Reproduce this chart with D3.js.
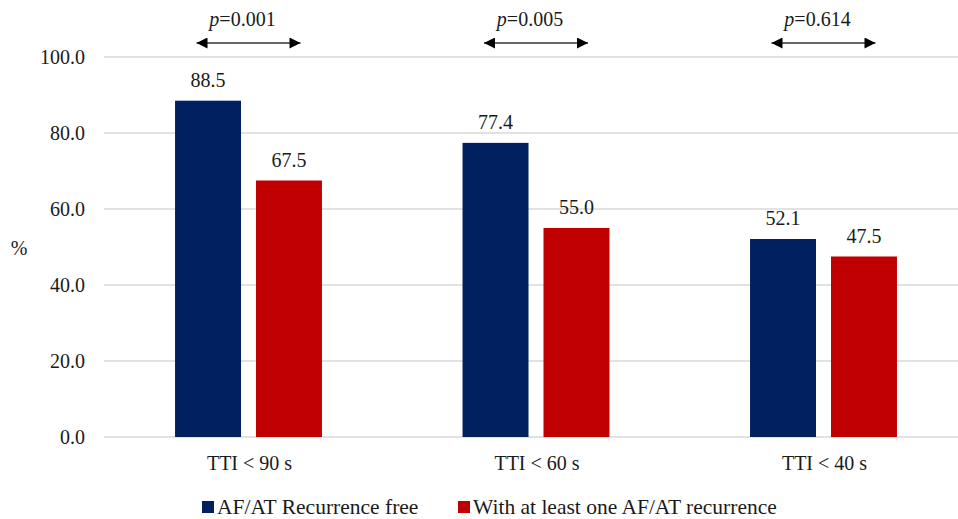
<!DOCTYPE html>
<html>
<head>
<meta charset="utf-8">
<script src="https://cdn.jsdelivr.net/npm/d3@7/dist/d3.min.js"></script>
<style>
  html, body { margin: 0; padding: 0; background: #fff; }
  svg { display: block; }
  svg text { font-family: "Liberation Serif", Tinos, "Times New Roman", "DejaVu Serif", serif; }
</style>
</head>
<body>
<svg id="chart" width="958" height="519"></svg>
<script>
const categories = ["TTI < 90 s", "TTI < 60 s", "TTI < 40 s"];
const seriesNames = ["AF/AT Recurrence free", "With at least one AF/AT recurrence"];
const recurrenceFree = [88.5, 77.4, 52.1];
const withRecurrence = [67.5, 55.0, 47.5];
const pValues = ["0.001", "0.005", "0.614"];
const yTicks = [0, 20, 40, 60, 80, 100];
const colors = ["#002060", "#C00000"];

const svg = d3.select("#chart");
const W = 958, H = 519;
const FONT = "'Liberation Serif', Tinos, 'Times New Roman', 'DejaVu Serif', serif";
const TXT = "#1a1a1a";

const x0 = d3.scaleBand().domain(categories).range([104.75, 967.25])
  .paddingInner(0.489).paddingOuter(0.2445);
const x1 = d3.scaleBand().domain(seriesNames).range([0, x0.bandwidth()])
  .paddingInner(15 / 81).paddingOuter(0);
const y = d3.scaleLinear().domain([0, 100]).range([437, 57]);

// gridlines
svg.append("g").selectAll("line").data(yTicks).join("line")
  .attr("x1", 104).attr("x2", W)
  .attr("y1", d => y(d)).attr("y2", d => y(d))
  .attr("stroke", "#d9d9d9").attr("stroke-width", 1.5);

// y tick labels
svg.append("g").selectAll("text").data(yTicks).join("text")
  .attr("x", 85).attr("y", d => y(d)).attr("dy", "0.35em")
  .attr("text-anchor", "end").attr("font-size", 20).attr("fill", TXT)
  .attr("font-family", FONT)
  .text(d => d.toFixed(1));

// % label
svg.append("text").attr("x", 19).attr("y", 248).attr("dy", "0.35em")
  .attr("font-family", FONT)
  .attr("text-anchor", "middle").attr("font-size", 20).attr("fill", TXT).text("%");

const rows = categories.map((c, i) => ({
  cat: c,
  vals: [{ s: seriesNames[0], v: recurrenceFree[i], c: colors[0] },
         { s: seriesNames[1], v: withRecurrence[i], c: colors[1] }]
}));

const groups = svg.append("g").selectAll("g").data(rows).join("g")
  .attr("transform", d => `translate(${x0(d.cat)},0)`);

groups.selectAll("rect").data(d => d.vals).join("rect")
  .attr("x", d => x1(d.s)).attr("width", x1.bandwidth())
  .attr("y", d => y(d.v)).attr("height", d => y(0) - y(d.v))
  .attr("fill", d => d.c);

groups.selectAll("text.val").data(d => d.vals).join("text")
  .attr("class", "val")
  .attr("x", d => x1(d.s) + x1.bandwidth() / 2)
  .attr("y", d => y(d.v) - 14)
  .attr("font-family", FONT)
  .attr("text-anchor", "middle").attr("font-size", 20).attr("fill", TXT)
  .text(d => d.v.toFixed(1));

// category labels
svg.append("g").selectAll("text").data(categories).join("text")
  .attr("x", d => x0(d) + x0.bandwidth() / 2 + 1)
  .attr("y", 470)
  .attr("font-family", FONT)
  .attr("text-anchor", "middle").attr("font-size", 20).attr("fill", TXT)
  .text(d => d);

// p-value arrows
const defs = svg.append("defs");
defs.append("marker").attr("id", "ah").attr("viewBox", "0 0 10 10")
  .attr("refX", 10).attr("refY", 5).attr("markerWidth", 12).attr("markerHeight", 11)
  .attr("markerUnits", "userSpaceOnUse").attr("orient", "auto-start-reverse")
  .append("path").attr("d", "M0,0 L10,5 L0,10 Z").attr("fill", "#000");

const pg = svg.append("g").selectAll("g").data(categories).join("g")
  .attr("transform", d => `translate(${x0(d) + x0.bandwidth() / 2},0)`);
pg.append("line").attr("x1", -52).attr("x2", 52).attr("y1", 43).attr("y2", 43)
  .attr("stroke", "#333").attr("stroke-width", 1.5)
  .attr("marker-start", "url(#ah)").attr("marker-end", "url(#ah)");
const pt = pg.append("text").attr("x", -6).attr("y", 26)
  .attr("font-family", FONT)
  .attr("text-anchor", "middle").attr("font-size", 20).attr("fill", TXT);
pt.append("tspan").attr("font-style", "italic").text("p");
pt.append("tspan").text((d, i) => "=" + pValues[i]);

// legend
const legendX = [202, 458];
const lg = svg.append("g").selectAll("g").data(seriesNames).join("g")
  .attr("transform", (d, i) => `translate(${legendX[i]},0)`);
lg.append("rect").attr("x", 0).attr("y", 501).attr("width", 12).attr("height", 12)
  .attr("fill", (d, i) => colors[i]);
lg.append("text").attr("x", 15).attr("y", 514).attr("font-size", 21.5).attr("fill", TXT)
  .attr("font-family", FONT)
  .text(d => d);
</script>
</body>
</html>
